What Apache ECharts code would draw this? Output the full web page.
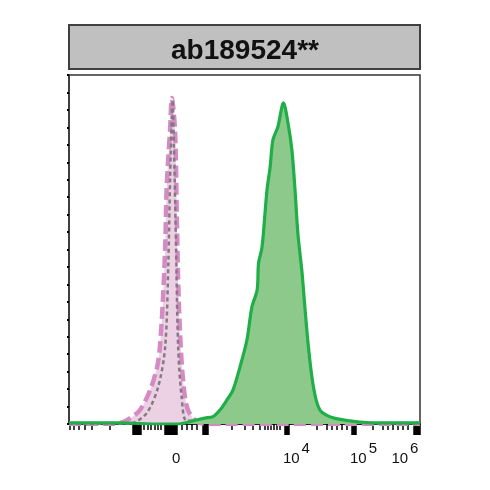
<!DOCTYPE html>
<html>
<head>
<meta charset="utf-8">
<script src="https://cdn.jsdelivr.net/npm/echarts@6/dist/echarts.min.js"></script>
<style>html,body{margin:0;padding:0;background:#fff;}#c{width:490px;height:490px;}</style>
</head>
<body>
<div id="c"></div>
<script>
// Channel scale 0..1000 (biexponential display), y = % of max count
const titleText = 'ab189524**';

const greenX = [0,145,259,308,353,387,410,430,450,467,487,507,521,536,540,550,564,573,581,595,611,624,635,644,652,664,672,681,692,704,715,732,758,801,849,906,1000];
const greenY = [0.3,0.3,0,0,0.9,1.7,2.1,4.0,6.9,9.7,16.3,24.1,33.5,38.4,46.1,50.7,67.0,73.6,81.4,85.1,92.0,86.2,78.5,67.0,54.7,43.3,33.5,23.2,13.5,6.9,4.0,2.6,1.6,0.9,0.4,0.3,0.3];

const pinkX = [0,88,125,165,202,231,251,259,268,274,278,283,288,293,302,307,311,316,325,339,373,430,1000];
const pinkY = [0,0,0,1.1,4.0,9.7,16.3,22.1,36.4,50.7,67.0,76.5,84.2,93.4,84.2,60.5,41.3,26.9,12.6,4.0,0.3,0,0];

const grayX = [0,145,182,222,254,274,283,288,293,295,299,305,311,321,335,380,500,650,760,850,1000];
const grayY = [0,0,0.3,3.2,10.6,22.1,46.1,69.9,89.1,92.8,79.4,50.7,22.1,7.7,0.9,0.9,0.9,0.9,0.6,0.3,0];

// axis decorations (channel units)
const longTickBlocks = [[182,205],[273,310],[382,396],[615,627],[806,818],[982,1000]];
const shortTicks = [3,14,28,46,66,117,214,225,234,245,254,262,322,336,350,365,464,501,524,544,558,567,576,584,593,601,706,735,749,764,778,792,866,895,909,923,937,952,966];
const labelValues = [314,648,839,957];
const labelTexts = ['0{s| }','10{s|4}','10{s|5}','10{s|6}'];

function pairs(xs, ys){ return xs.map((x,i)=>[x, ys[i]]); }
const longTicks = [];
longTickBlocks.forEach(([a,b])=>{ for(let v=a; v<=b; v+=2.5) longTicks.push(Math.min(v,1000)); });

const chart = echarts.init(document.getElementById('c'), null, {renderer:'canvas'});
const xBase = {type:'value', min:0, max:1000, position:'bottom', splitLine:{show:false}};
chart.setOption({
  animation:false,
  title:{text:titleText, left:'center', top:32, textStyle:{fontFamily:'Liberation Sans, Arial', fontWeight:'bold', fontSize:28, color:'#111'}},
  graphic:[{type:'rect', z:-1, shape:{x:69, y:25, width:351, height:44}, style:{fill:'#c0c0c0', stroke:'#404040', lineWidth:2}}],
  grid:{left:69, right:70, top:75, bottom:66, show:true, borderColor:'#333', borderWidth:1.5, backgroundColor:'transparent'},
  xAxis:[
    Object.assign({}, xBase, {
      axisLine:{show:true, lineStyle:{color:'#111', width:1.5}},
      axisTick:{show:true, customValues:longTicks, length:11, inside:false, lineStyle:{color:'#000', width:1.5}},
      axisLabel:{show:true, customValues:labelValues, margin:17,
        formatter:(v)=>labelTexts[labelValues.indexOf(v)],
        fontFamily:'Liberation Sans, Arial', fontSize:15, color:'#111',
        rich:{s:{fontSize:15, padding:[0,0,20,2], color:'#111', fontFamily:'Liberation Sans, Arial'}}}
    }),
    Object.assign({}, xBase, {
      axisLine:{show:false},
      axisTick:{show:true, customValues:shortTicks, length:6, lineStyle:{color:'#000', width:1.5}},
      axisLabel:{show:false}
    })
  ],
  yAxis:{type:'value', min:0, max:100, interval:5, splitLine:{show:false},
    axisLine:{show:true, lineStyle:{color:'#333', width:1.5}},
    axisTick:{show:true, length:2, lineStyle:{color:'#000', width:2}},
    axisLabel:{show:false}},
  series:[
    {type:'line', data:pairs(pinkX,pinkY), symbol:'none', smooth:0.3, z:2,
      lineStyle:{color:'#d48bc3', width:4.5, type:[12,5]}, areaStyle:{color:'#ecd0e4', opacity:1}},
    {type:'line', data:pairs(grayX,grayY), symbol:'none', smooth:0.3, z:3,
      lineStyle:{color:'#857a83', width:2.5, type:[4,3]}},
    {type:'line', data:pairs(greenX,greenY), symbol:'none', smooth:0.3, z:4,
      lineStyle:{color:'#1fae48', width:3.2}, areaStyle:{color:'#8cc98a', opacity:1}}
  ]
});
</script>
</body>
</html>
